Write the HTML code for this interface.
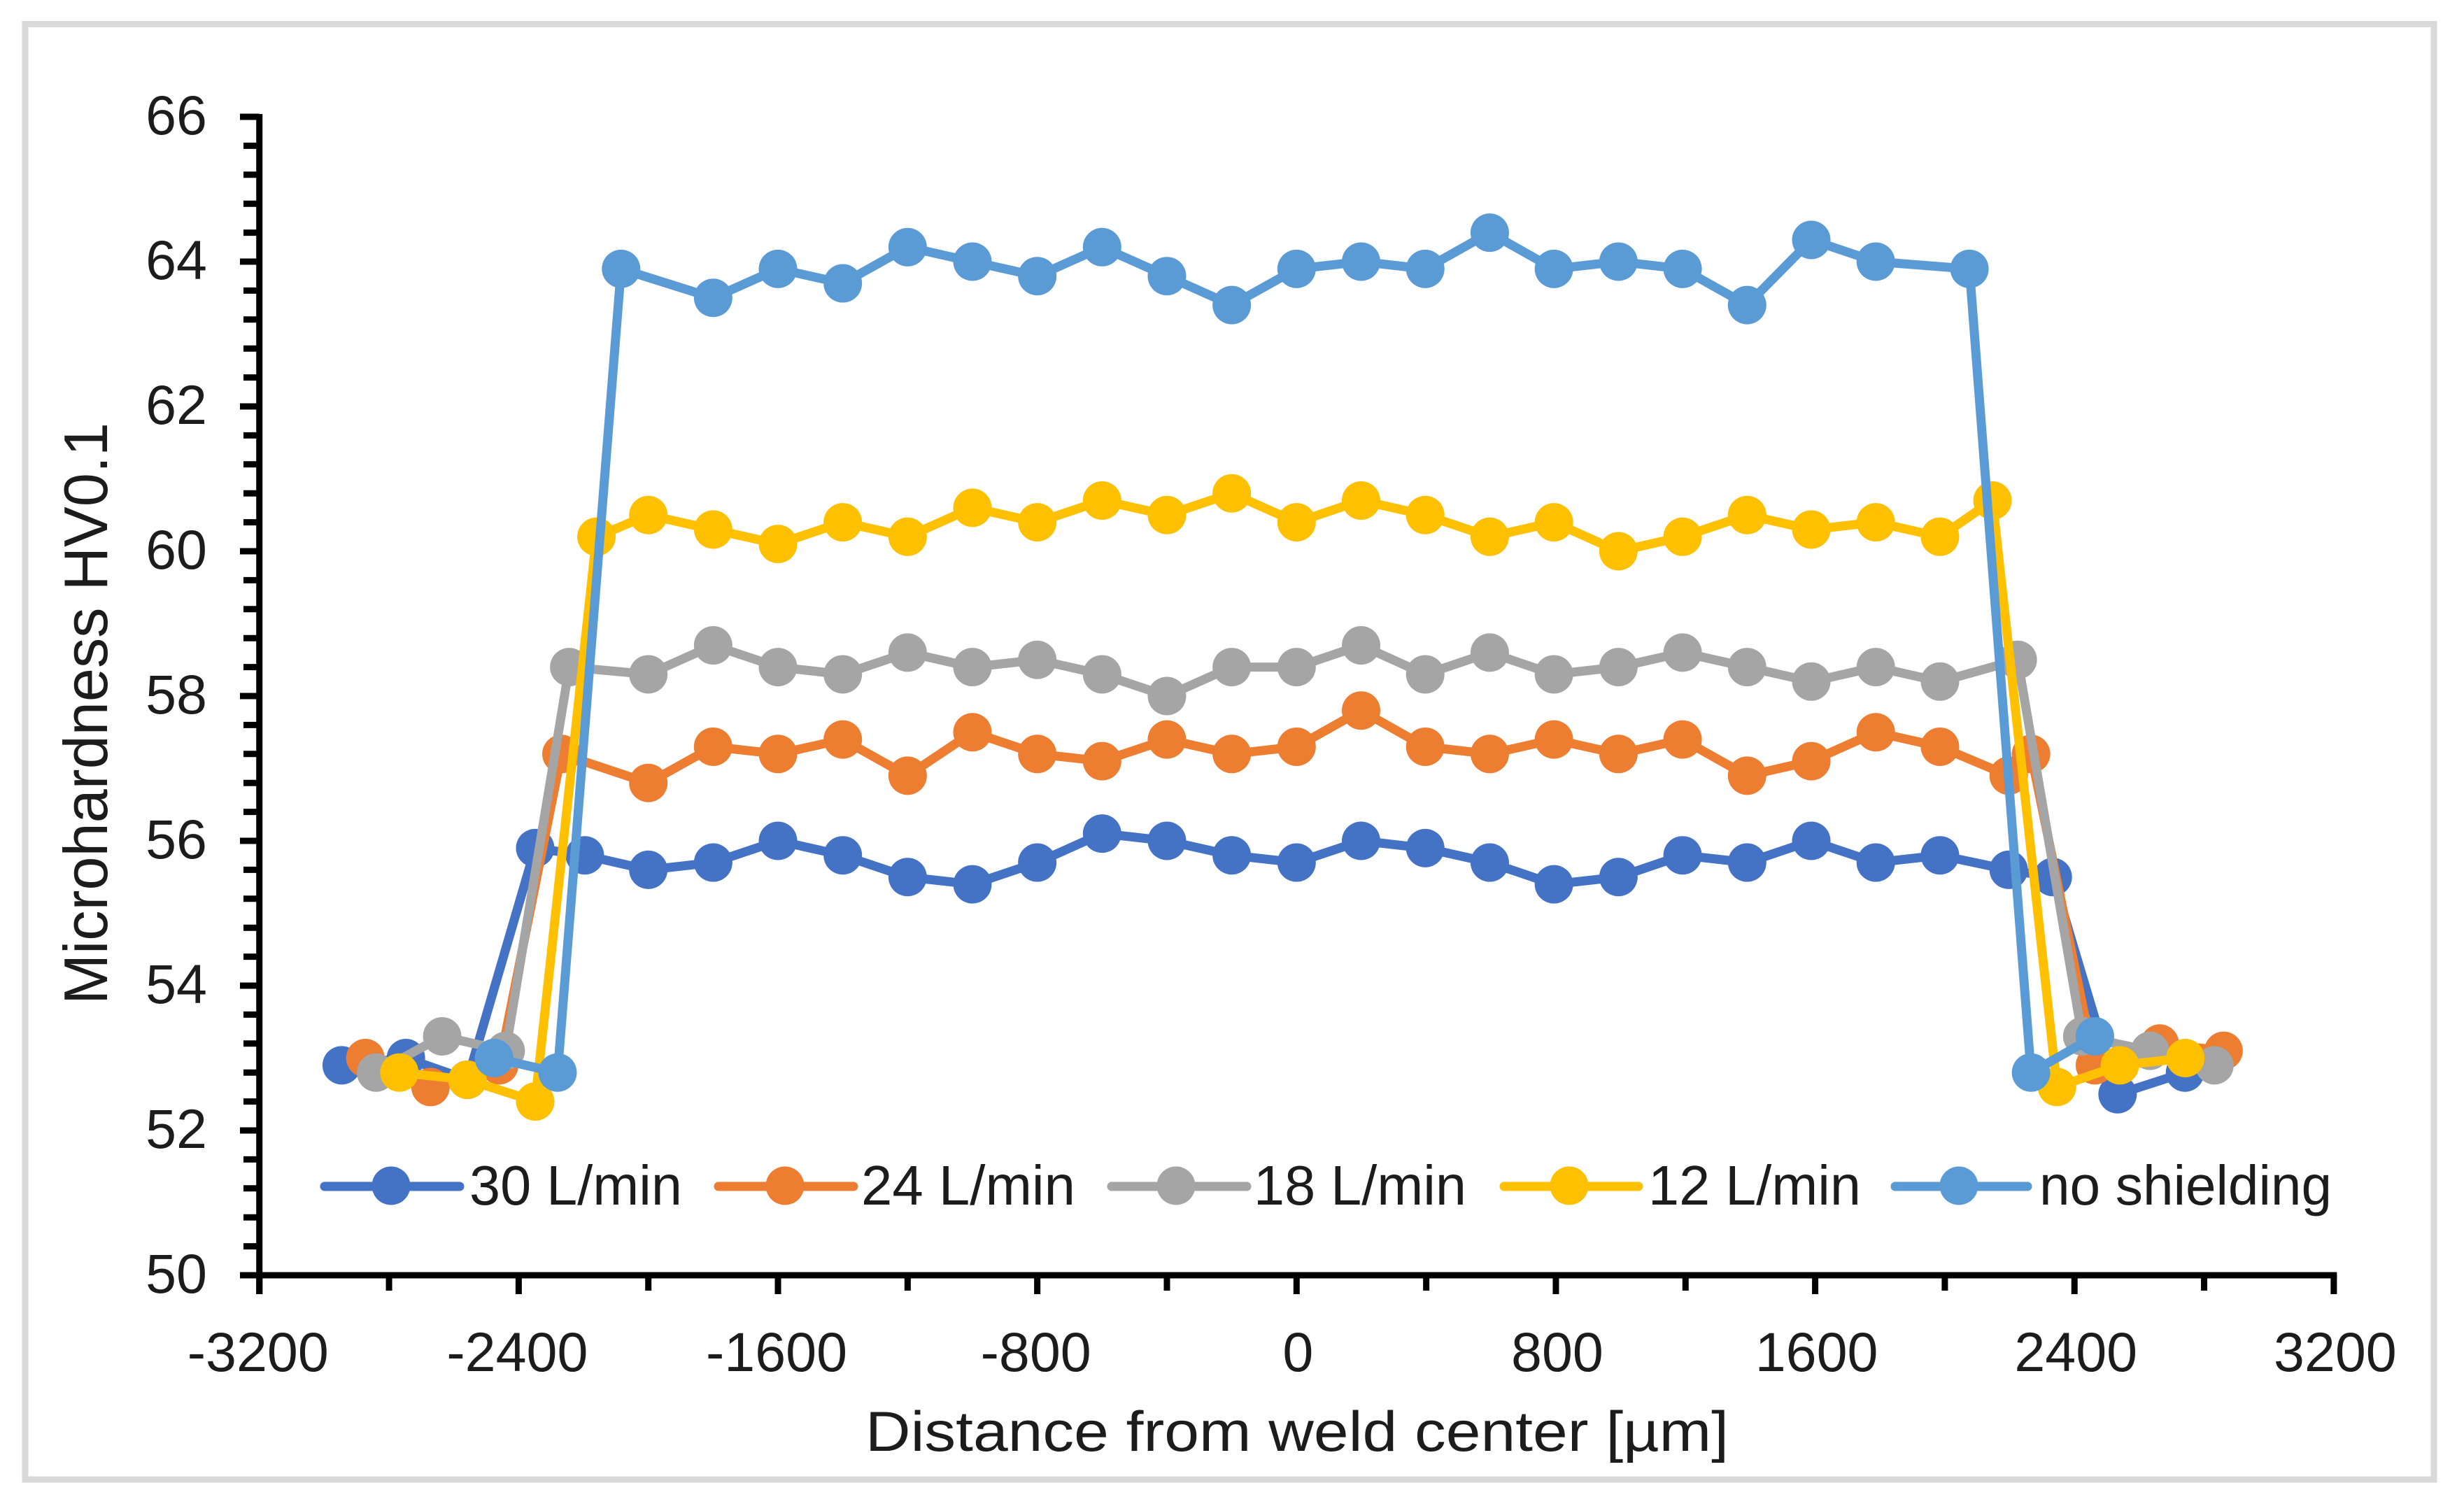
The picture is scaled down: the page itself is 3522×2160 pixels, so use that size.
<!DOCTYPE html>
<html>
<head>
<meta charset="utf-8">
<title>Microhardness chart</title>
<style>
html,body{margin:0;padding:0;background:#fff;width:3522px;height:2160px;overflow:hidden}
svg{display:block}
text{font-family:"Liberation Sans",sans-serif;fill:#1c1c1c}
</style>
</head>
<body>
<svg id="chart" xmlns="http://www.w3.org/2000/svg" width="3522" height="2160" viewBox="0 0 3522 2160">
  <rect x="0" y="0" width="3522" height="2160" fill="#fff"/>
  <rect x="36" y="34.5" width="3443" height="2080.5" fill="#fff" stroke="#d9d9d9" stroke-width="9"/>
  <g id="axes"></g>
  <g id="series"></g>
  <text x="153" y="1436" transform="rotate(-90 153 1436)" font-size="88" textLength="832" lengthAdjust="spacingAndGlyphs">Microhardness HV0.1</text>
  <text x="1237" y="2074" font-size="81" textLength="1234" lengthAdjust="spacingAndGlyphs">Distance from weld center [µm]</text>
  <g>
    <g>
      <line x1="464" y1="1696" x2="657" y2="1696" stroke="#4472C4" stroke-width="13" stroke-linecap="round"/>
      <circle cx="559" cy="1695" r="27.5" fill="#4472C4"/>
      <text x="671" y="1722" font-size="80" textLength="304" lengthAdjust="spacingAndGlyphs">30 L/min</text>
    </g>
    <g>
      <line x1="1027" y1="1696" x2="1220" y2="1696" stroke="#ED7D31" stroke-width="13" stroke-linecap="round"/>
      <circle cx="1122" cy="1695" r="27.5" fill="#ED7D31"/>
      <text x="1231" y="1722" font-size="80" textLength="306" lengthAdjust="spacingAndGlyphs">24 L/min</text>
    </g>
    <g>
      <line x1="1589" y1="1696" x2="1782" y2="1696" stroke="#A5A5A5" stroke-width="13" stroke-linecap="round"/>
      <circle cx="1681" cy="1695" r="27.5" fill="#A5A5A5"/>
      <text x="1792" y="1722" font-size="80" textLength="304" lengthAdjust="spacingAndGlyphs">18 L/min</text>
    </g>
    <g>
      <line x1="2150" y1="1696" x2="2342" y2="1696" stroke="#FFC000" stroke-width="13" stroke-linecap="round"/>
      <circle cx="2243" cy="1695" r="27.5" fill="#FFC000"/>
      <text x="2356" y="1722" font-size="80" textLength="304" lengthAdjust="spacingAndGlyphs">12 L/min</text>
    </g>
    <g>
      <line x1="2709" y1="1696" x2="2898" y2="1696" stroke="#5B9BD5" stroke-width="13" stroke-linecap="round"/>
      <circle cx="2800" cy="1695" r="27.5" fill="#5B9BD5"/>
      <text x="2915" y="1722" font-size="80" textLength="418" lengthAdjust="spacingAndGlyphs">no shielding</text>
    </g>
  </g>
</svg>
<script>
var xTickLabels = [-3200, -2400, -1600, -800, 0, 800, 1600, 2400, 3200];
var yTickLabels = [50, 52, 54, 56, 58, 60, 62, 64, 66];

var x30 = [-2946,-2748,-2558,-2349,-2196,-2000,-1800,-1600,-1400,-1200,-1000,-800,-600,-400,-200,0,199,397,596,794,993,1191,1390,1588,1787,1985,2197,2333,2533,2741];
var y30 = [52.9,53.0,52.7,55.9,55.8,55.6,55.7,56.0,55.8,55.5,55.4,55.7,56.1,56.0,55.8,55.7,56.0,55.9,55.7,55.4,55.5,55.8,55.7,56.0,55.7,55.8,55.6,55.5,52.5,52.8];

var x24 = [-2873,-2672,-2460,-2268,-2000,-1800,-1600,-1400,-1200,-1000,-800,-600,-400,-200,0,199,397,596,794,993,1191,1390,1588,1787,1985,2197,2266,2463,2663,2860];
var y24 = [53.0,52.6,52.9,57.2,56.8,57.3,57.2,57.4,56.9,57.5,57.2,57.1,57.4,57.2,57.3,57.8,57.3,57.2,57.4,57.2,57.4,56.9,57.1,57.5,57.3,56.9,57.2,52.9,53.2,53.1];

var x18 = [-2840,-2636,-2440,-2244,-2000,-1800,-1600,-1400,-1200,-1000,-800,-600,-400,-200,0,199,397,596,794,993,1191,1390,1588,1787,1985,2225,2424,2633,2832];
var y18 = [52.8,53.3,53.1,58.4,58.3,58.7,58.4,58.3,58.6,58.4,58.5,58.3,58.0,58.4,58.4,58.7,58.3,58.6,58.3,58.4,58.6,58.4,58.2,58.4,58.2,58.5,53.3,53.1,52.9];

var x12 = [-2768,-2558,-2349,-2160,-2000,-1800,-1600,-1400,-1200,-1000,-800,-600,-400,-200,0,199,397,596,794,993,1191,1390,1588,1787,1985,2147,2346,2540,2742];
var y12 = [52.8,52.7,52.4,60.2,60.5,60.3,60.1,60.4,60.2,60.6,60.4,60.7,60.5,60.8,60.4,60.7,60.5,60.2,60.4,60.0,60.2,60.5,60.3,60.4,60.2,60.7,52.6,52.9,53.0];

var xNone = [-2476,-2280,-2084,-1800,-1600,-1400,-1200,-1000,-800,-600,-400,-200,0,199,397,596,794,993,1191,1390,1588,1787,2076,2266,2463];
var yNone = [53.0,52.8,63.9,63.5,63.9,63.7,64.2,64.0,63.8,64.2,63.8,63.4,63.9,64.0,63.9,64.4,63.9,64.0,63.9,63.4,64.3,64.0,63.9,52.8,53.3];

var seriesNames = ['30-lmin', '24-lmin', '18-lmin', '12-lmin', 'no-shielding'];
var seriesX = [x30, x24, x18, x12, xNone];
var seriesY = [y30, y24, y18, y12, yNone];
var seriesColors = ['#4472C4', '#ED7D31', '#A5A5A5', '#FFC000', '#5B9BD5'];

var NS = 'http://www.w3.org/2000/svg';
function xScale(v) { return 1853.3 + v * 0.4633; }
function yScale(v) { return 1823 - (v - 50) * 103.5; }
function seg(parent, x1, y1, x2, y2, color, w) {
  var l = document.createElementNS(NS, 'line');
  l.setAttribute('x1', x1);
  l.setAttribute('y1', y1);
  l.setAttribute('x2', x2);
  l.setAttribute('y2', y2);
  l.setAttribute('stroke', color);
  l.setAttribute('stroke-width', w);
  parent.appendChild(l);
  return l;
}
var axes = document.getElementById('axes');
var yAxisX = xScale(-3200);
var xAxisY = yScale(50);
var xEnd = xScale(3200);
var yLine = seg(axes, yAxisX, yScale(66) - 4, yAxisX, xAxisY + 27, '#000', 9);


var xLine = seg(axes, yAxisX, xAxisY, xEnd + 4.5, xAxisY, '#000', 9);



yTickLabels.forEach(function (v, i) {
  var t = seg(axes, 343, yScale(v), yAxisX, yScale(v), '#000', 9);
  
  
  var lab = document.createElementNS(NS, 'text');
  lab.setAttribute('x', 296);
  lab.setAttribute('y', yScale(v) + 25);
  lab.setAttribute('font-size', '79');
  lab.setAttribute('text-anchor', 'end');
  lab.textContent = String(v);
  
  
  axes.appendChild(lab);
  if (i < yTickLabels.length - 1) {
    var gap = (yTickLabels[i + 1] - v) / 5;
    for (var k = 1; k < 5; k++) {
      var m = seg(axes, 348, yScale(v + gap * k), yAxisX, yScale(v + gap * k), '#000', 9);
      
      
    }
  }
});

xTickLabels.forEach(function (v, i) {
  var t = seg(axes, xScale(v), xAxisY, xScale(v), xAxisY + 27, '#000', 9);
  
  
  var lab = document.createElementNS(NS, 'text');
  lab.setAttribute('x', xScale(v) + (v < 0 ? -2 : 2));
  lab.setAttribute('y', 1960);
  lab.setAttribute('font-size', '79');
  lab.setAttribute('text-anchor', 'middle');
  lab.textContent = String(v);
  
  
  axes.appendChild(lab);
  if (i < xTickLabels.length - 1) {
    var mid = (v + xTickLabels[i + 1]) / 2;
    var m = seg(axes, xScale(mid), xAxisY, xScale(mid), xAxisY + 22, '#000', 9);
    
    
  }
});

var layer = document.getElementById('series');
seriesNames.forEach(function (name, s) {
  var g = document.createElementNS(NS, 'g');
  
  
  layer.appendChild(g);
  var xs = seriesX[s];
  var ys = seriesY[s];
  var pts = xs.map(function (x, i) { return xScale(x).toFixed(1) + ',' + yScale(ys[i]).toFixed(1); }).join(' ');
  var line = document.createElementNS(NS, 'polyline');
  line.setAttribute('points', pts);
  line.setAttribute('fill', 'none');
  line.setAttribute('stroke', seriesColors[s]);
  line.setAttribute('stroke-width', '13');
  line.setAttribute('stroke-linejoin', 'round');
  
  
  g.appendChild(line);
  xs.forEach(function (x, i) {
    var c = document.createElementNS(NS, 'circle');
    c.setAttribute('cx', xScale(x));
    c.setAttribute('cy', yScale(ys[i]));
    c.setAttribute('r', '27.5');
    c.setAttribute('fill', seriesColors[s]);
    
    
    g.appendChild(c);
  });
});
</script>
</body>
</html>
